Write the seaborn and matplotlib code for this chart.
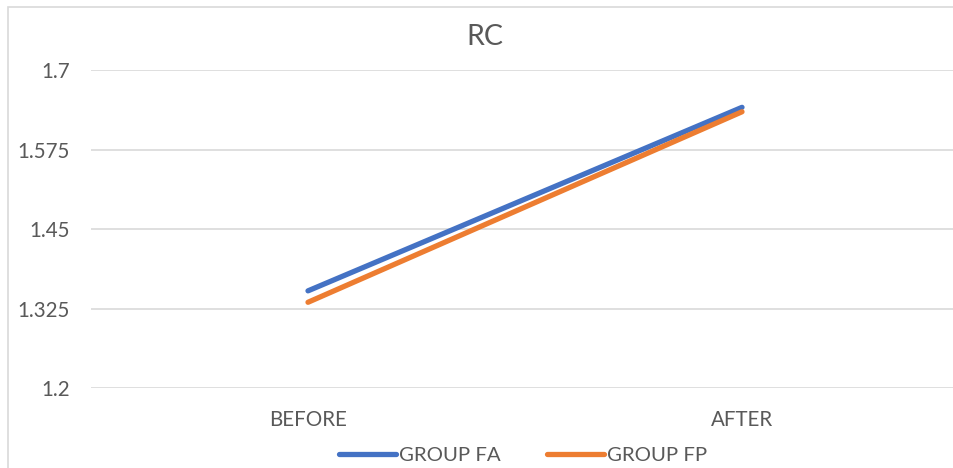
import matplotlib
matplotlib.use("Agg")
import matplotlib.pyplot as plt
from matplotlib.patches import Rectangle
from matplotlib.lines import Line2D
import seaborn as sns
import pandas as pd

stages = ["BEFORE", "AFTER"]
groups = ["GROUP FA", "GROUP FP"]
group_fa = [1.353, 1.642]
group_fp = [1.335, 1.635]
y_ticks = [1.2, 1.325, 1.45, 1.575, 1.7]
y_tick_labels = ["1.2", "1.325", "1.45", "1.575", "1.7"]
title = "RC"

df = pd.DataFrame({
    "stage": stages * 2,
    "value": group_fa + group_fp,
    "group": [groups[0]] * 2 + [groups[1]] * 2,
})

sns.set_theme(style="white")
plt.rcParams["font.family"] = ["Lato", "DejaVu Sans"]

W, H = 954, 468
fig = plt.figure(figsize=(W / 100, H / 100), dpi=100)
fig.patch.set_facecolor("white")

# chart border
fig.patches.append(Rectangle((8 / W, -0.1), 1.2, 1.1 - 7 / H, transform=fig.transFigure,
                             fill=False, edgecolor="#D9D9D9", linewidth=1.2))

left, right = 91, 959
top, bottom = 70.5, 388
ax = fig.add_axes([left / W, (H - bottom) / H, (right - left) / W, (bottom - top) / H])

palette = {"GROUP FA": "#4472C4", "GROUP FP": "#ED7D31"}
sns.lineplot(data=df, x="stage", y="value", hue="group", palette=palette,
             sort=False, linewidth=3.8, ax=ax, legend=False,
             solid_capstyle="round")

ax.set_xlim(-0.5, 1.5)
ax.set_ylim(1.2, 1.7)
ax.set_yticks(y_ticks)
ax.set_yticklabels(y_tick_labels)
ax.set_xlabel("")
ax.set_ylabel("")
for s in ax.spines.values():
    s.set_visible(False)
ax.yaxis.grid(True, color="#D9D9D9", linewidth=1.2)
ax.set_axisbelow(True)
ax.tick_params(axis="both", length=0, labelsize=14.8, colors="#595959")
ax.tick_params(axis="y", pad=15)
ax.tick_params(axis="x", pad=16)
ax.patch.set_alpha(0)

fig.text(485 / W, 1 - 37 / H, title, ha="center", va="center",
         fontsize=20.5, color="#595959")

handles = [Line2D([], [], color=palette[g], linewidth=3.8, solid_capstyle="round") for g in groups]
fig.legend(handles, groups, loc="center", bbox_to_anchor=(523 / W, 1 - 455 / H),
           ncol=2, frameon=False, fontsize=14.7, labelcolor="#595959",
           handlelength=2.8, handletextpad=0.15, columnspacing=2.25)

fig.savefig("out.png", dpi=100)
